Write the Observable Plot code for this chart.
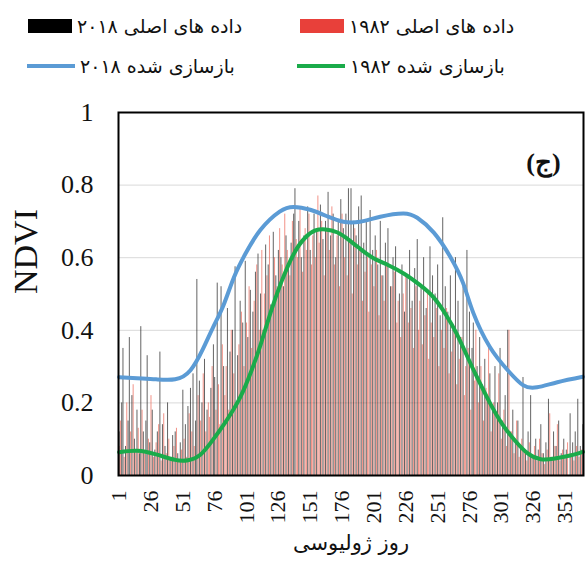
<!DOCTYPE html>
<html>
<head>
<meta charset="utf-8">
<script src="https://cdn.jsdelivr.net/npm/d3@7"></script>
<script src="https://cdn.jsdelivr.net/npm/@observablehq/plot@0.6"></script>
<style>
  html, body { margin: 0; padding: 0; background: #fff; }
  body { width: 585px; height: 570px; overflow: hidden; }
  #legend { position: relative; height: 92px; font-family: "DejaVu Sans", sans-serif; font-size: 19px; color: #111; }
  .item { position: absolute; display: flex; align-items: center; gap: 5px; white-space: nowrap; }
  .sw { display: inline-block; }
</style>
</head>
<body>
<div id="legend"></div>
<div id="chart"></div>
<script>
// Day-of-year tick labels and NDVI ticks
const dayTicks = [1, 26, 51, 76, 101, 126, 151, 176, 201, 226, 251, 276, 301, 326, 351];
const ndviTicks = [0, 0.2, 0.4, 0.6, 0.8, 1];

// Original (cloud-filtered) NDVI observations, [day, NDVI]
const obs1982 = [
  [1,0.08],[2,0.15],[5,0.05],[7,0.20],[10,0.12],[12,0.25],[14,0.07],[16,0.13],[19,0.18],[21,0.06],
  [24,0.10],[26,0.22],[28,0.05],[30,0.09],[32,0.14],[34,0.04],[36,0.17],[38,0.06],[40,0.10],[42,0.05],
  [44,0.08],[46,0.13],[48,0.04],[50,0.07],[52,0.10],[54,0.05],[56,0.17],[58,0.12],[60,0.08],[63,0.22],
  [65,0.15],[67,0.28],[69,0.12],[71,0.20],[72,0.16],[74,0.30],[77,0.18],[79,0.25],[80,0.14],[82,0.36],
  [84,0.22],[85,0.30],[87,0.18],[89,0.40],[91,0.28],[93,0.20],[95,0.36],[97,0.45],[99,0.30],[101,0.42],
  [103,0.52],[105,0.35],[107,0.48],[109,0.58],[111,0.40],[113,0.62],[115,0.50],[117,0.55],[119,0.66],[121,0.45],
  [123,0.60],[125,0.52],[127,0.68],[129,0.58],[131,0.72],[133,0.62],[135,0.55],[137,0.70],[140,0.65],[141,0.60],
  [143,0.74],[145,0.56],[147,0.68],[148,0.62],[150,0.72],[152,0.58],[153,0.66],[155,0.60],[157,0.77],[158,0.64],
  [160,0.70],[162,0.55],[164,0.68],[166,0.62],[168,0.74],[170,0.58],[172,0.66],[174,0.52],[176,0.72],[178,0.60],
  [180,0.55],[182,0.64],[184,0.50],[186,0.68],[188,0.58],[190,0.62],[192,0.48],[194,0.56],[196,0.60],[197,0.45],
  [199,0.58],[201,0.52],[203,0.62],[205,0.44],[207,0.55],[209,0.48],[211,0.58],[213,0.40],[215,0.52],[217,0.56],
  [219,0.42],[220,0.48],[222,0.38],[224,0.50],[226,0.55],[228,0.42],[230,0.46],[232,0.35],[234,0.52],[236,0.40],
  [237,0.48],[239,0.36],[241,0.44],[243,0.50],[244,0.32],[246,0.42],[248,0.38],[250,0.46],[252,0.30],[254,0.40],
  [256,0.35],[258,0.46],[260,0.28],[262,0.34],[264,0.40],[266,0.25],[268,0.32],[270,0.38],[272,0.22],[273,0.30],
  [275,0.35],[277,0.18],[280,0.26],[281,0.40],[283,0.20],[285,0.30],[287,0.15],[289,0.24],[291,0.35],[293,0.12],
  [295,0.20],[297,0.16],[299,0.28],[301,0.10],[303,0.18],[305,0.08],[307,0.40],[309,0.12],[311,0.06],[313,0.15],
  [315,0.05],[317,0.10],[319,0.07],[321,0.04],[323,0.09],[325,0.05],[327,0.08],[329,0.04],[331,0.10],[333,0.06],
  [335,0.03],[337,0.07],[339,0.17],[341,0.05],[343,0.08],[345,0.14],[347,0.04],[349,0.07],[351,0.05],[353,0.09],
  [356,0.06],[358,0.04],[360,0.08],[362,0.05],[364,0.07]
];

const obs2018 = [
  [1,0.12],[3,0.20],[4,0.35],[6,0.08],[8,0.15],[9,0.38],[11,0.22],[13,0.10],[15,0.18],[17,0.06],
  [18,0.41],[20,0.12],[22,0.15],[23,0.33],[25,0.09],[27,0.18],[29,0.07],[31,0.12],[33,0.34],[35,0.14],
  [37,0.08],[39,0.20],[41,0.05],[43,0.11],[45,0.12],[47,0.06],[49,0.09],[51,0.235],[53,0.14],[55,0.19],
  [57,0.24],[59,0.28],[61,0.15],[62,0.54],[64,0.26],[66,0.20],[68,0.32],[70,0.18],[73,0.24],[75,0.36],
  [76,0.27],[78,0.53],[81,0.52],[83,0.30],[86,0.46],[88,0.34],[90,0.40],[92,0.575],[94,0.33],[96,0.48],
  [98,0.42],[100,0.59],[102,0.38],[104,0.51],[106,0.45],[108,0.56],[110,0.61],[112,0.50],[114,0.40],[116,0.635],
  [118,0.58],[120,0.47],[122,0.67],[124,0.55],[126,0.62],[128,0.60],[130,0.52],[132,0.66],[134,0.58],[136,0.64],
  [138,0.72],[139,0.79],[142,0.70],[144,0.60],[146,0.66],[149,0.74],[151,0.62],[154,0.72],[156,0.68],[159,0.745],
  [161,0.65],[163,0.70],[165,0.78],[167,0.66],[169,0.72],[171,0.60],[173,0.70],[175,0.76],[177,0.68],[179,0.72],
  [181,0.79],[183,0.79],[185,0.70],[187,0.66],[189,0.74],[191,0.77],[193,0.64],[195,0.70],[198,0.73],[200,0.62],
  [202,0.66],[204,0.58],[206,0.70],[208,0.55],[210,0.64],[212,0.68],[214,0.52],[216,0.60],[218,0.63],[221,0.50],
  [223,0.58],[225,0.45],[227,0.55],[229,0.62],[231,0.48],[233,0.57],[235,0.65],[238,0.52],[240,0.60],[242,0.46],
  [245,0.63],[247,0.55],[249,0.50],[251,0.58],[253,0.44],[255,0.71],[257,0.52],[259,0.45],[261,0.55],[263,0.40],
  [265,0.60],[267,0.48],[269,0.38],[271,0.52],[274,0.62],[276,0.45],[278,0.35],[279,0.42],[282,0.30],[284,0.38],
  [286,0.25],[288,0.32],[290,0.22],[292,0.28],[294,0.18],[296,0.30],[298,0.20],[300,0.35],[302,0.15],[304,0.22],
  [306,0.40],[308,0.12],[310,0.18],[312,0.10],[314,0.15],[316,0.08],[318,0.27],[320,0.06],[322,0.12],[324,0.22],
  [326,0.05],[328,0.10],[330,0.07],[332,0.14],[334,0.06],[336,0.09],[338,0.21],[340,0.05],[342,0.12],[344,0.08],
  [346,0.15],[348,0.06],[350,0.10],[352,0.07],[355,0.17],[357,0.09],[359,0.12],[361,0.21],[363,0.08],[365,0.14]
];

// Reconstructed (smoothed) NDVI profiles, [day, NDVI]
const fit1982 = [
  [1,0.064],[15,0.068],[30,0.058],[45,0.043],[55,0.042],[65,0.058],[75,0.10],[85,0.15],[96,0.215],[105,0.29],
  [112,0.36],[120,0.45],[128,0.53],[138,0.61],[147,0.655],[155,0.675],[163,0.678],[172,0.67],[181,0.65],[190,0.625],
  [200,0.60],[212,0.58],[225,0.555],[237,0.525],[248,0.49],[258,0.44],[266,0.39],[274,0.33],[282,0.27],[292,0.20],
  [302,0.14],[312,0.095],[322,0.06],[332,0.045],[343,0.047],[355,0.055],[365,0.065]
];

const fit2018 = [
  [1,0.271],[15,0.268],[30,0.265],[45,0.265],[57,0.29],[67,0.35],[75,0.41],[83,0.47],[91,0.545],[100,0.61],
  [112,0.677],[127,0.727],[138,0.740],[151,0.732],[165,0.713],[177,0.699],[190,0.699],[206,0.713],[224,0.722],[235,0.710],
  [248,0.669],[261,0.602],[271,0.530],[279,0.448],[292,0.354],[306,0.290],[318,0.249],[329,0.243],[345,0.257],[365,0.272]
];

// Legend entries
const legendItems = [
  {label: "داده های اصلی ۲۰۱۸", color: "#000000", kind: "bar", left: 28, top: 15},
  {label: "داده های اصلی ۱۹۸۲", color: "#e8403a", kind: "bar", left: 300, top: 15},
  {label: "بازسازی شده ۲۰۱۸", color: "#5b9bd5", kind: "line", left: 27, top: 55},
  {label: "بازسازی شده ۱۹۸۲", color: "#1aab4a", kind: "line", left: 297, top: 55}
];

const legend = document.getElementById("legend");
for (const it of legendItems) {
  const row = document.createElement("div");
  row.className = "item";
  row.style.left = it.left + "px";
  row.style.top = it.top + "px";
  const sw = document.createElement("span");
  sw.className = "sw";
  sw.style.background = it.color;
  sw.style.width = (it.kind === "bar" ? 44 : 48) + "px";
  sw.style.height = (it.kind === "bar" ? 14 : 4) + "px";
  const tx = document.createElement("span");
  tx.dir = "rtl";
  tx.textContent = it.label;
  row.append(sw, tx);
  legend.append(row);
}

const xy = {x: d => d[0], y: d => d[1]};
const serif = "'Liberation Serif', 'Times New Roman', serif";

const chart = Plot.plot({
  width: 585,
  height: 478,
  marginTop: 20,
  marginLeft: 118,
  marginRight: 2,
  marginBottom: 95,
  style: {fontFamily: serif, background: "transparent", color: "#111"},
  x: {domain: [0.5, 365.5]},
  y: {domain: [0, 1]},
  marks: [
    Plot.gridY(ndviTicks.slice(1, -1), {stroke: "#d9d9d9", strokeOpacity: 1}),
    Plot.ruleX(obs1982, {...xy, stroke: "#ec6454", strokeWidth: 1, strokeOpacity: 0.7}),
    Plot.ruleX(obs2018, {...xy, stroke: "#222", strokeWidth: 1, strokeOpacity: 0.7}),
    Plot.line(fit2018, {...xy, curve: "natural", stroke: "#5b9bd5", strokeWidth: 4}),
    Plot.line(fit1982, {...xy, curve: "natural", stroke: "#1aab4a", strokeWidth: 4}),
    Plot.frame({stroke: "#000", strokeWidth: 2}),
    Plot.axisY(ndviTicks, {tickSize: 0, tickPadding: 25, fontSize: 26, label: null, tickFormat: d => String(d)}),
    Plot.axisX(dayTicks, {tickSize: 0, tickPadding: 15, tickRotate: -90, fontSize: 22, label: null, tickFormat: d => String(d)}),
    Plot.text(["NDVI"], {frameAnchor: "left", dx: -92, rotate: -90, fontSize: 34, fontFamily: serif}),
    Plot.text(["روز ژولیوسی"], {frameAnchor: "bottom", dy: 74, fontSize: 21, fontFamily: "'DejaVu Sans', sans-serif"}),
    Plot.text(["(ج)"], {frameAnchor: "top-right", dx: -40, dy: 40, textAnchor: "middle", fontSize: 26, fontWeight: "bold", fontFamily: serif})
  ]
});
document.getElementById("chart").append(chart);
</script>
</body>
</html>
